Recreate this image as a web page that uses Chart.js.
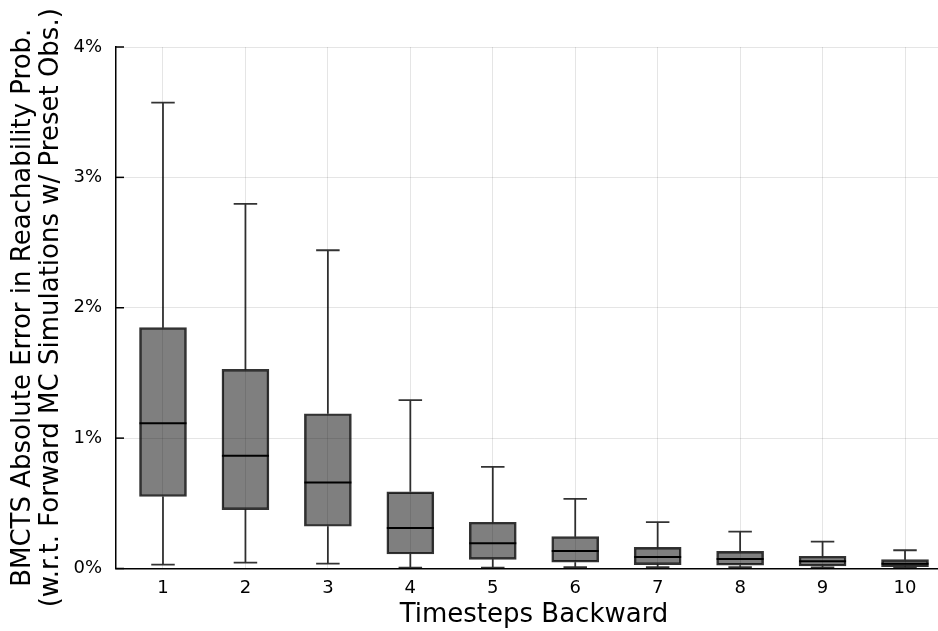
<!DOCTYPE html>
<html>
<head>
<meta charset="utf-8">
<script src="https://cdn.jsdelivr.net/npm/chart.js@4"></script>
<style>
  html, body { margin: 0; padding: 0; background: #fff; overflow: hidden; }
  #wrap { width: 938px; height: 631px; overflow: hidden; }
</style>
</head>
<body>
<div id="wrap"><canvas id="box" width="952" height="631"></canvas></div>
<script>
// timesteps backward
const steps = [1, 2, 3, 4, 5, 6, 7, 8, 9, 10];
// abs error in %
const lowWhisker  = [0.030, 0.045, 0.037, 0.006, 0.006, 0.010, 0.010, 0.010, 0.008, 0.005];
const q1          = [0.552, 0.452, 0.324, 0.111, 0.070, 0.048, 0.030, 0.025, 0.019, 0.014];
const medians     = [1.115, 0.864, 0.659, 0.311, 0.193, 0.134, 0.088, 0.073, 0.055, 0.037];
const q3          = [1.847, 1.527, 1.187, 0.588, 0.355, 0.244, 0.163, 0.132, 0.094, 0.068];
const highWhisker = [3.573, 2.797, 2.441, 1.292, 0.780, 0.534, 0.355, 0.283, 0.206, 0.140];
const yTicks = [0, 1, 2, 3, 4];

const font = "'DejaVu Sans', sans-serif";
const lineCol = 'rgba(0,0,0,0.8)';

// whiskers, caps, medians and inner y ticks
const boxExtras = {
    id: 'boxExtras',
    afterDatasetsDraw(chart) {
        const ctx = chart.ctx;
        const xs = chart.scales.x, ys = chart.scales.y;
        const bars = chart.getDatasetMeta(0).data;
        ctx.save();
        steps.forEach((s, i) => {
            const cx = xs.getPixelForValue(s);
            const half = bars[i].width / 2;
            const cap = half * 0.5;
            const yHi = ys.getPixelForValue(highWhisker[i]);
            const yQ3 = ys.getPixelForValue(q3[i]);
            const yQ1 = ys.getPixelForValue(q1[i]);
            const yLo = ys.getPixelForValue(lowWhisker[i]);
            const yMed = ys.getPixelForValue(medians[i]);
            ctx.strokeStyle = lineCol;
            ctx.lineWidth = 1.8;
            ctx.beginPath();
            ctx.moveTo(cx, yQ3); ctx.lineTo(cx, yHi);
            ctx.moveTo(cx - cap, yHi); ctx.lineTo(cx + cap, yHi);
            ctx.moveTo(cx, yQ1); ctx.lineTo(cx, yLo);
            ctx.moveTo(cx - cap, yLo); ctx.lineTo(cx + cap, yLo);
            ctx.stroke();
            ctx.strokeStyle = '#000';
            ctx.lineWidth = 2;
            ctx.beginPath();
            ctx.moveTo(cx - half, yMed); ctx.lineTo(cx + half, yMed);
            ctx.stroke();
        });
        // ticks point inward like the original
        ctx.strokeStyle = '#000';
        ctx.lineWidth = 1.5;
        yTicks.forEach(t => {
            const y = ys.getPixelForValue(t);
            ctx.beginPath();
            ctx.moveTo(chart.chartArea.left, y);
            ctx.lineTo(chart.chartArea.left + 8, y);
            ctx.stroke();
        });
        ctx.restore();
    }
};

new Chart(document.getElementById('box'), {
    type: 'bar',
    data: {
        datasets: [{
            data: steps.map((s, i) => ({ x: s, y: [q1[i], q3[i]] })),
            backgroundColor: 'rgba(0,0,0,0.5)',
            borderColor: lineCol,
            borderWidth: 1.8,
            borderSkipped: false,
            barThickness: 47
        }]
    },
    options: {
        responsive: false,
        devicePixelRatio: 1,
        animation: false,
        layout: { padding: { top: 47, left: 0, right: 0, bottom: 0 } },
        plugins: { legend: { display: false }, tooltip: { enabled: false } },
        scales: {
            x: {
                type: 'linear',
                offset: false,
                min: 0.43,
                max: 10.57,
                afterFit: s => { s.height = 62.5; },
                afterBuildTicks: s => { s.ticks = steps.map(v => ({ value: v })); },
                grid: { offset: false, color: 'rgba(0,0,0,0.1)', lineWidth: 1, drawTicks: false },
                border: { display: true, color: '#000', width: 1.5 },
                ticks: { color: '#000', font: { family: font, size: 18 }, padding: 9 },
                title: {
                    display: true, text: 'Timesteps Backward', color: '#000',
                    font: { family: font, size: 26, lineHeight: 1.1 }, padding: { top: 0, bottom: 1 }
                }
            },
            y: {
                min: 0,
                max: 4,
                afterFit: s => { s.width = 116; },
                afterBuildTicks: s => { s.ticks = yTicks.map(v => ({ value: v })); },
                grid: { color: 'rgba(0,0,0,0.1)', lineWidth: 1, drawTicks: false },
                border: { display: true, color: '#000', width: 1.5 },
                ticks: { color: '#000', font: { family: font, size: 18 }, padding: 14, callback: v => v + '%' },
                title: {
                    display: true,
                    text: ['BMCTS Absolute Error in Reachability Prob.', '(w.r.t. Forward MC Simulations w/ Preset Obs.)'],
                    color: '#000',
                    font: { family: font, size: 26, lineHeight: 1.08 },
                    padding: { top: 9, bottom: 0 }
                }
            }
        }
    },
    plugins: [boxExtras]
});
</script>
</body>
</html>
